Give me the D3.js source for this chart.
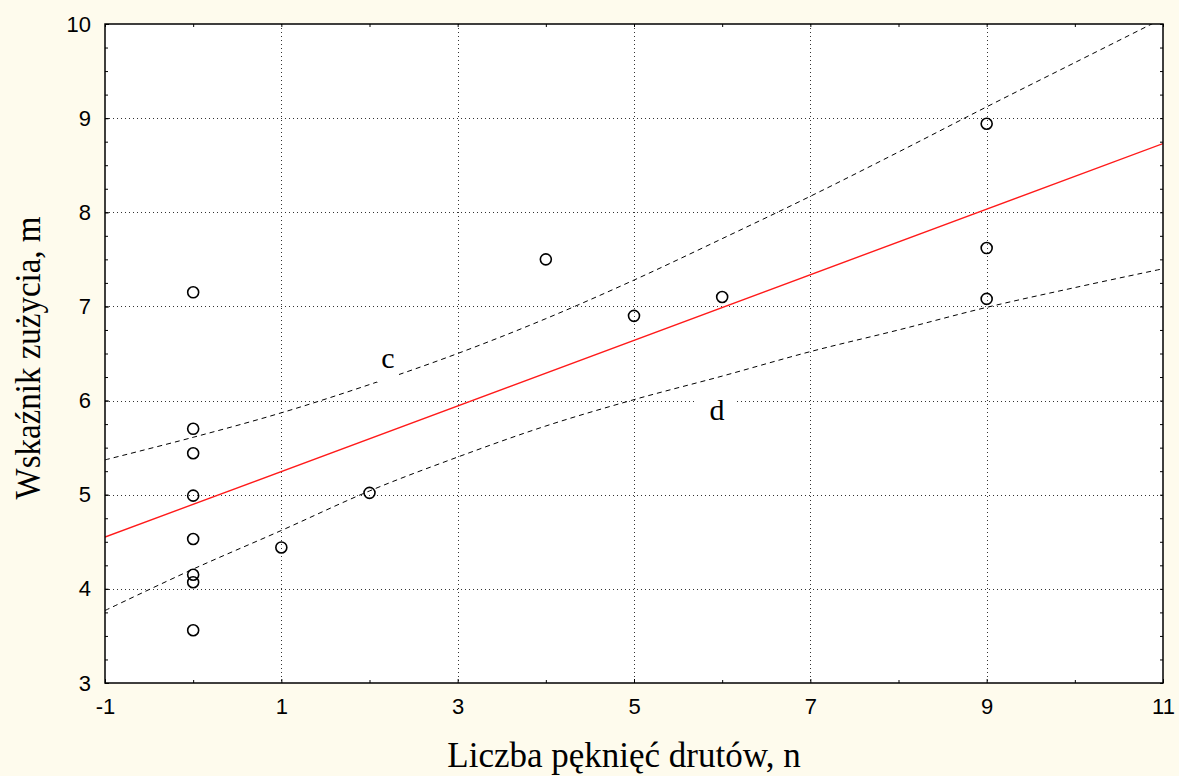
<!DOCTYPE html>
<html>
<head>
<meta charset="utf-8">
<script src="https://cdn.jsdelivr.net/npm/d3@7"></script>
<style>
  html, body { margin: 0; padding: 0; background: #fefbed; }
  svg { display: block; }
</style>
</head>
<body>
<svg id="chart" width="1179" height="776"></svg>
<script>
// Observations: number of wire breaks (n) and wear index (m)
const breaksN = [0, 0, 0, 0, 0, 0, 0, 0, 1, 2, 4, 5, 6, 9, 9, 9];
const wearM   = [7.15, 5.70, 5.44, 4.99, 4.53, 4.15, 4.07, 3.56, 4.44, 5.02, 7.50, 6.90, 7.10, 8.94, 7.62, 7.08];

// Fitted regression line (end points over the axis range)
const fitX = [-1, 11];
const fitY = [4.55, 8.73];

// Confidence band curves c (upper) and d (lower)
const bandX = [-1, 0, 1, 2, 3, 4, 5, 6, 7, 8, 9, 10, 11];
const bandUpper = [5.37, 5.61, 5.87, 6.17, 6.50, 6.87, 7.28, 7.72, 8.17, 8.64, 9.12, 9.59, 10.06];
const bandLower = [3.77, 4.21, 4.62, 5.04, 5.40, 5.73, 6.01, 6.26, 6.52, 6.75, 6.99, 7.20, 7.40];

// Axis ticks
const xTicks = [-1, 1, 3, 5, 7, 9, 11];
const xMinor = [0, 2, 4, 6, 8, 10];
const yTicks = [3, 4, 5, 6, 7, 8, 9, 10];

const svg = d3.select("#chart");
const W = 1179, H = 776;
const m = { left: 105, right: 1163, top: 24, bottom: 683 };

svg.append("rect").attr("width", W).attr("height", H).attr("fill", "#fefbed");

const x = d3.scaleLinear().domain([-1, 11]).range([m.left, m.right]);
const y = d3.scaleLinear().domain([3, 10]).range([m.bottom, m.top]);

// plot area
svg.append("rect")
  .attr("x", m.left).attr("y", m.top)
  .attr("width", m.right - m.left).attr("height", m.bottom - m.top)
  .attr("fill", "#ffffff");

svg.append("defs").append("clipPath").attr("id", "plotClip")
  .append("rect")
  .attr("x", m.left).attr("y", m.top)
  .attr("width", m.right - m.left).attr("height", m.bottom - m.top);

// grid lines
const grid = svg.append("g").attr("stroke", "#333").attr("stroke-width", 1)
  .attr("stroke-dasharray", "1,3").attr("fill", "none");
grid.selectAll("line.gx").data(xTicks.slice(1, -1)).join("line")
  .attr("class", "gx")
  .attr("x1", d => Math.round(x(d)) + 0.5).attr("x2", d => Math.round(x(d)) + 0.5)
  .attr("y1", m.top).attr("y2", m.bottom);
grid.selectAll("line.gy").data(yTicks.slice(1, -1)).join("line")
  .attr("class", "gy")
  .attr("y1", d => Math.round(y(d)) + 0.5).attr("y2", d => Math.round(y(d)) + 0.5)
  .attr("x1", m.left).attr("x2", m.right);

const plot = svg.append("g").attr("clip-path", "url(#plotClip)");

const curve = d3.line().x(d => x(d[0])).y(d => y(d[1])).curve(d3.curveCatmullRom);

// confidence bands
plot.append("path")
  .datum(bandX.map((v, i) => [v, bandUpper[i]]))
  .attr("d", curve)
  .attr("fill", "none").attr("stroke", "#000").attr("stroke-width", 1)
  .attr("stroke-dasharray", "5,4");
plot.append("path")
  .datum(bandX.map((v, i) => [v, bandLower[i]]))
  .attr("d", curve)
  .attr("fill", "none").attr("stroke", "#000").attr("stroke-width", 1)
  .attr("stroke-dasharray", "5,4");

// regression line
plot.append("path")
  .datum(fitX.map((v, i) => [v, fitY[i]]))
  .attr("d", d3.line().x(d => x(d[0])).y(d => y(d[1])))
  .attr("fill", "none").attr("stroke", "#ff1a1a").attr("stroke-width", 1.4);

// data points
plot.selectAll("circle.pt").data(breaksN.map((v, i) => [v, wearM[i]])).join("circle")
  .attr("class", "pt")
  .attr("cx", d => x(d[0])).attr("cy", d => y(d[1]))
  .attr("r", 5.5)
  .attr("fill", "none").attr("stroke", "#000").attr("stroke-width", 1.6);

// curve labels with white backing
function bandLabel(text, cx, baseY, bw) {
  svg.append("rect")
    .attr("x", cx - bw / 2).attr("y", baseY - 26).attr("width", bw).attr("height", 40)
    .attr("fill", "#ffffff");
  svg.append("text")
    .attr("x", cx).attr("y", baseY)
    .attr("text-anchor", "middle")
    .attr("font-family", "'Liberation Serif', 'Times New Roman', serif")
    .attr("font-size", 30)
    .attr("fill", "#000")
    .text(text);
}
bandLabel("c", 388, 368, 22);
bandLabel("d", 717, 420, 40);

// frame
svg.append("rect")
  .attr("x", m.left).attr("y", m.top)
  .attr("width", m.right - m.left).attr("height", m.bottom - m.top)
  .attr("fill", "none").attr("stroke", "#000").attr("stroke-width", 1.5);

// axes (ticks pointing into the plot)
const tickFont = "'Liberation Sans', Arial, sans-serif";
const fmt = d => String(d);
const xAxisB = d3.axisBottom(x).tickValues(xTicks).tickSize(-4).tickPadding(10).tickFormat(fmt);
const gxb = svg.append("g").attr("transform", `translate(0,${m.bottom})`).call(xAxisB);
gxb.select(".domain").remove();
gxb.selectAll("text").attr("font-family", tickFont).attr("font-size", 22).attr("fill", "#000")
  .attr("dy", "0.95em");

const gxbm = svg.append("g").attr("transform", `translate(0,${m.bottom})`)
  .call(d3.axisBottom(x).tickValues(xMinor).tickSize(-3).tickFormat(""));
gxbm.select(".domain").remove();

const gxt = svg.append("g").attr("transform", `translate(0,${m.top})`)
  .call(d3.axisTop(x).tickValues(xTicks.concat(xMinor)).tickSize(-3).tickFormat(""));
gxt.select(".domain").remove();

const yMinor = d3.range(3, 10.01, 0.25);
const yAxisL = d3.axisLeft(y).tickValues(yTicks).tickSize(-4).tickPadding(14).tickFormat(fmt);
const gyl = svg.append("g").attr("transform", `translate(${m.left},0)`).call(yAxisL);
gyl.select(".domain").remove();
gyl.selectAll("text").attr("font-family", tickFont).attr("font-size", 22).attr("fill", "#000");

const gylm = svg.append("g").attr("transform", `translate(${m.left},0)`)
  .call(d3.axisLeft(y).tickValues(yMinor).tickSize(-3).tickFormat(""));
gylm.select(".domain").remove();

const gyr = svg.append("g").attr("transform", `translate(${m.right},0)`)
  .call(d3.axisRight(y).tickValues(yMinor).tickSize(-3).tickFormat(""));
gyr.select(".domain").remove();

svg.selectAll(".tick line").attr("stroke", "#000").attr("stroke-width", 1);

// axis titles
const titleFont = "'Liberation Serif', 'Times New Roman', serif";
svg.append("text")
  .attr("x", 624).attr("y", 767)
  .attr("text-anchor", "middle")
  .attr("font-family", titleFont).attr("font-size", 35).attr("fill", "#000")
  .text("Liczba pęknięć drutów, n");

svg.append("text")
  .attr("transform", "translate(40,358) rotate(-90) scale(1,1.1)")
  .attr("text-anchor", "middle")
  .attr("font-family", titleFont).attr("font-size", 33).attr("fill", "#000")
  .text("Wskaźnik zużycia, m");
</script>
</body>
</html>
